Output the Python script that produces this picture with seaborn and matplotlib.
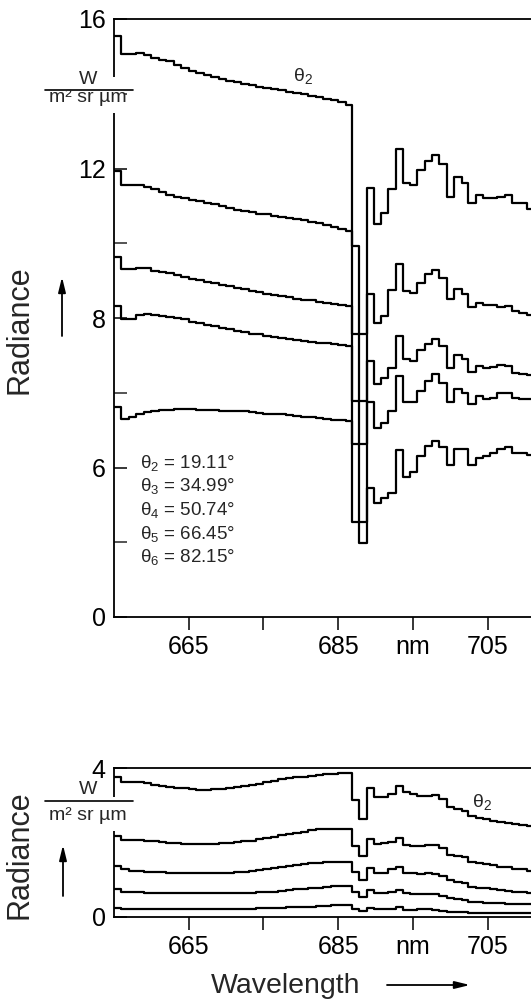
import numpy as np
import pandas as pd
import seaborn as sns
import matplotlib
matplotlib.use('Agg')
from matplotlib import pyplot as plt
from matplotlib.patches import Rectangle
from matplotlib.lines import Line2D

# wavelength bin starts (nm)
WAVE = [655, 656, 657, 658, 659, 660, 661, 662, 663, 664, 665, 666, 667, 668, 669, 670,
        671, 672, 673, 674, 675, 676, 677, 678, 679, 680, 681, 682, 683, 684, 685, 686,
        686.8, 687.8, 688.8, 689.8, 690.7, 691.7, 692.7, 693.7, 694.6, 695.6, 696.6, 697.6,
        698.5, 699.5, 700.5, 701.5, 702.4, 703.4, 704.4, 705.3, 706.3, 707.3, 708.2, 709.2, 710.2]
WAVE_END = 711.0

ANGLES = ['θ2', 'θ3', 'θ4', 'θ5', 'θ6']
ANGLE_VALUES = ['19.11', '34.99', '50.74', '66.45', '82.15']

# upper panel, radiance W/(m2 sr um)
TOP_T2 = [15.55, 15.07, 15.07, 15.10, 15.05, 14.95, 14.90, 14.87, 14.78, 14.70, 14.62, 14.55, 14.50, 14.44, 14.40, 14.35,
          14.31, 14.27, 14.23, 14.19, 14.15, 14.12, 14.09, 14.06, 14.03, 13.99, 13.94, 13.90, 13.87, 13.84, 13.78, 13.70,
          9.92, 7.79, 11.47, 10.51, 10.80, 11.44, 12.53, 11.60, 11.55, 11.97, 12.21, 12.35,
          12.11, 11.23, 11.76, 11.60, 11.07, 11.28, 11.20, 11.20, 11.25, 11.28, 11.07, 11.07, 10.91]
TOP_T3 = [11.92, 11.57, 11.57, 11.57, 11.50, 11.45, 11.36, 11.30, 11.25, 11.20, 11.17, 11.12, 11.08, 11.04, 10.99, 10.94,
          10.90, 10.86, 10.83, 10.79, 10.77, 10.74, 10.71, 10.68, 10.66, 10.62, 10.58, 10.54, 10.48, 10.43, 10.38, 10.32,
          7.79, 6.89, 8.64, 7.93, 8.05, 8.75, 9.44, 8.72, 8.67, 8.93, 9.17, 9.28,
          9.07, 8.51, 8.77, 8.64, 8.29, 8.40, 8.35, 8.35, 8.29, 8.32, 8.19, 8.13, 8.08]
TOP_T4 = [9.63, 9.30, 9.30, 9.35, 9.33, 9.27, 9.24, 9.20, 9.15, 9.10, 9.05, 9.01, 8.97, 8.93, 8.89, 8.85,
          8.81, 8.77, 8.73, 8.69, 8.65, 8.62, 8.58, 8.55, 8.52, 8.49, 8.47, 8.44, 8.41, 8.38, 8.36, 8.32,
          6.89, 6.32, 7.43, 7.12, 7.20, 7.33, 7.76, 7.45, 7.43, 7.57, 7.65, 7.72,
          7.63, 7.33, 7.51, 7.45, 7.28, 7.36, 7.33, 7.35, 7.37, 7.36, 7.27, 7.25, 7.24]
TOP_T5 = [8.32, 7.98, 7.98, 8.08, 8.10, 8.08, 8.05, 8.03, 8.00, 7.98, 7.95, 7.93, 7.91, 7.89, 7.87, 7.85,
          7.83, 7.81, 7.79, 7.78, 7.76, 7.75, 7.73, 7.72, 7.70, 7.69, 7.68, 7.67, 7.66, 7.65, 7.64, 7.62,
          6.32, 3.80, 6.87, 6.53, 6.59, 6.76, 7.23, 6.88, 6.88, 7.03, 7.16, 7.25,
          7.13, 6.88, 7.05, 7.00, 6.85, 6.95, 6.92, 6.93, 6.99, 6.99, 6.93, 6.92, 6.91]
TOP_T6 = [6.81, 6.65, 6.68, 6.72, 6.74, 6.76, 6.77, 6.77, 6.78, 6.78, 6.78, 6.77, 6.77, 6.77, 6.76, 6.76,
          6.75, 6.75, 6.74, 6.73, 6.72, 6.72, 6.71, 6.70, 6.69, 6.68, 6.67, 6.66, 6.65, 6.64, 6.63, 6.62,
          3.80, 2.96, 5.16, 4.56, 4.76, 4.96, 6.23, 5.60, 5.80, 6.16, 6.29, 6.36,
          6.27, 6.03, 6.25, 6.25, 6.03, 6.13, 6.16, 6.20, 6.25, 6.27, 6.20, 6.20, 6.17]

# lower panel
BOT_T2 = [3.77, 3.63, 3.63, 3.62, 3.60, 3.55, 3.52, 3.49, 3.47, 3.45, 3.43, 3.42, 3.42, 3.43, 3.44, 3.46,
          3.48, 3.51, 3.54, 3.57, 3.62, 3.66, 3.70, 3.73, 3.75, 3.77, 3.79, 3.81, 3.83, 3.85, 3.86, 3.87,
          3.14, 2.63, 3.45, 3.21, 3.23, 3.30, 3.52, 3.36, 3.30, 3.25, 3.25, 3.28,
          3.16, 2.94, 2.90, 2.85, 2.71, 2.67, 2.62, 2.59, 2.56, 2.53, 2.50, 2.46, 2.44]
BOT_T3 = [2.17, 2.07, 2.07, 2.06, 2.05, 2.03, 2.01, 1.99, 1.98, 1.97, 1.96, 1.96, 1.96, 1.97, 1.98, 1.99,
          2.01, 2.03, 2.05, 2.09, 2.13, 2.16, 2.19, 2.22, 2.25, 2.29, 2.33, 2.36, 2.36, 2.36, 2.36, 2.36,
          1.91, 1.64, 2.09, 1.96, 1.98, 2.02, 2.11, 1.93, 1.91, 1.91, 1.92, 1.93,
          1.84, 1.66, 1.64, 1.60, 1.47, 1.45, 1.42, 1.39, 1.35, 1.33, 1.29, 1.28, 1.24]
BOT_T4 = [1.37, 1.28, 1.24, 1.23, 1.22, 1.21, 1.20, 1.19, 1.18, 1.17, 1.17, 1.17, 1.17, 1.17, 1.18, 1.19,
          1.20, 1.22, 1.24, 1.26, 1.29, 1.32, 1.35, 1.37, 1.40, 1.42, 1.44, 1.46, 1.48, 1.48, 1.48, 1.48,
          1.22, 0.99, 1.31, 1.17, 1.19, 1.28, 1.35, 1.19, 1.17, 1.16, 1.17, 1.16,
          1.10, 0.99, 0.95, 0.90, 0.81, 0.79, 0.77, 0.75, 0.72, 0.70, 0.68, 0.66, 0.65]
BOT_T5 = [0.74, 0.66, 0.66, 0.66, 0.65, 0.64, 0.64, 0.64, 0.64, 0.64, 0.64, 0.64, 0.64, 0.64, 0.64, 0.64,
          0.65, 0.65, 0.65, 0.66, 0.66, 0.68, 0.70, 0.72, 0.74, 0.76, 0.77, 0.79, 0.81, 0.82, 0.83, 0.84,
          0.68, 0.55, 0.72, 0.64, 0.64, 0.66, 0.72, 0.64, 0.63, 0.62, 0.63, 0.63,
          0.57, 0.50, 0.48, 0.46, 0.41, 0.40, 0.38, 0.37, 0.37, 0.36, 0.35, 0.35, 0.34]
BOT_T6 = [0.25, 0.21, 0.21, 0.21, 0.21, 0.21, 0.21, 0.21, 0.21, 0.21, 0.21, 0.21, 0.21, 0.21, 0.21, 0.21,
          0.22, 0.22, 0.22, 0.23, 0.24, 0.25, 0.25, 0.26, 0.26, 0.27, 0.28, 0.29, 0.30, 0.31, 0.31, 0.32,
          0.21, 0.17, 0.25, 0.21, 0.21, 0.21, 0.26, 0.19, 0.20, 0.21, 0.21, 0.20,
          0.17, 0.14, 0.14, 0.13, 0.12, 0.12, 0.12, 0.12, 0.12, 0.11, 0.11, 0.11, 0.11]

# the upper axis is drawn with uneven spacing: 0-6, 6-8, 8-16
Y_BREAKS = [0, 6, 8, 16]
Y_POS = [0, 1, 2, 4]


def fwd(v):
    return np.interp(v, Y_BREAKS, Y_POS)


def inv(p):
    return np.interp(p, Y_POS, Y_BREAKS)


def long_table(curves):
    frames = []
    for name, vals in zip(ANGLES, curves):
        frames.append(pd.DataFrame({'wavelength': WAVE + [WAVE_END],
                                    'radiance': vals + [vals[-1]],
                                    'angle': name}))
    return pd.concat(frames, ignore_index=True)


W, H = 531, 1001


def fx(x):
    return x / W


def fy(y):
    return 1 - y / H


sns.set_style('ticks')
plt.rcParams['font.family'] = ['Liberation Sans', 'DejaVu Sans']
plt.rcParams['mathtext.fontset'] = 'custom'
plt.rcParams['mathtext.rm'] = 'Liberation Sans'

fig = plt.figure(figsize=(W / 100, H / 100), dpi=100)
ax1 = fig.add_axes([fx(114), fy(617), 1 - fx(114), (617 - 19) / H])
ax2 = fig.add_axes([fx(114), fy(917), 1 - fx(114), (917 - 768) / H])

ax1.set_yscale('function', functions=(fwd, inv))

top = long_table([TOP_T2, TOP_T3, TOP_T4, TOP_T5, TOP_T6])
bot = long_table([BOT_T2, BOT_T3, BOT_T4, BOT_T5, BOT_T6])
for ax, df in [(ax1, top), (ax2, bot)]:
    sns.lineplot(data=df, x='wavelength', y='radiance', hue='angle', palette=['black'] * 5,
                 estimator=None, sort=False, drawstyle='steps-post', lw=1.6,
                 legend=False, ax=ax)
    ax.set_xlim(655, 710.8)
    ax.set_xticks([665, 675, 685, 695, 705])
    ax.set_xticklabels(['665', '', '685', 'nm', '705'])
    ax.set_xlabel('')
    ax.set_ylabel('')
    ax.spines['right'].set_visible(False)
    for s in ['left', 'top', 'bottom']:
        ax.spines[s].set_linewidth(1.3)
        ax.spines[s].set_color('black')
    ax.tick_params(axis='x', direction='out', length=9, width=1.1, labelsize=18, pad=4, colors='black')
    ax.tick_params(axis='y', direction='in', length=9, width=1.1, labelsize=18, pad=6, colors='black')
    ax.xaxis.set_minor_locator(matplotlib.ticker.NullLocator())

ax1.set_ylim(0, 16)
ax1.set_yticks([0, 6, 8, 12, 16])
ax1.set_yticklabels(['0', '6', '8', '12', '16'])
ax1.set_yticks([3, 7, 10, 14], minor=True)
ax1.tick_params(axis='y', which='minor', direction='in', length=9, width=1.1)

ax2.set_ylim(0, 4)
ax2.set_yticks([0, 4])
ax2.set_yticklabels(['0', '4'])
ax2.yaxis.set_minor_locator(matplotlib.ticker.NullLocator())

# curve labels
ax1.text(fx(303), fy(76), r'$\mathregular{θ_2}$', transform=fig.transFigure,
         ha='center', va='center', fontsize=14)
ax2.text(fx(482), fy(802), r'$\mathregular{θ_2}$', transform=fig.transFigure,
         ha='center', va='center', fontsize=14)

# angle list
for i, (name, val) in enumerate(zip(ANGLES, ANGLE_VALUES)):
    fig.text(fx(140), fy(463 + 23.5 * i), r'$\mathregular{θ_%s}$ = %s°' % (name[1], val),
             ha='left', va='center', fontsize=13.5)

# unit fractions, covering the spine behind them
for y_w, y_bar, y_den, gap in [(80, 90, 98, (77, 113)), (789, 801, 816, (797, 831))]:
    fig.add_artist(Rectangle((fx(108), fy(gap[1])), fx(16), (gap[1] - gap[0]) / H,
                             transform=fig.transFigure, fc='white', ec='none', zorder=5))
    fig.text(fx(88), fy(y_w), 'W', ha='center', va='center', fontsize=14, zorder=6)
    fig.add_artist(Line2D([fx(45), fx(133)], [fy(y_bar), fy(y_bar)], transform=fig.transFigure,
                          color='black', lw=1.2, zorder=6))
    fig.text(fx(88), fy(y_den), 'm² sr µm', ha='center', va='center', fontsize=14, zorder=6)

# axis titles with arrows
fig.text(fx(20), fy(330), 'Radiance', rotation=90, ha='center', va='center', fontsize=22)
fig.text(fx(20), fy(855), 'Radiance', rotation=90, ha='center', va='center', fontsize=22)
fig.text(fx(286), fy(986), 'Wavelength', ha='center', va='center', fontsize=20.5)

arrow = dict(arrowstyle='-|>,head_length=0.9,head_width=0.22', lw=1.3, color='black',
             shrinkA=0, shrinkB=0)
for start, end in [((62, 336), (62, 277)), ((63, 896), (63, 845)), ((387, 985), (470, 985))]:
    ax1.annotate('', xy=(fx(end[0]), fy(end[1])), xytext=(fx(start[0]), fy(start[1])),
                 xycoords='figure fraction', textcoords='figure fraction',
                 arrowprops=arrow, annotation_clip=False)

fig.savefig('out.png', dpi=100, facecolor='white')
